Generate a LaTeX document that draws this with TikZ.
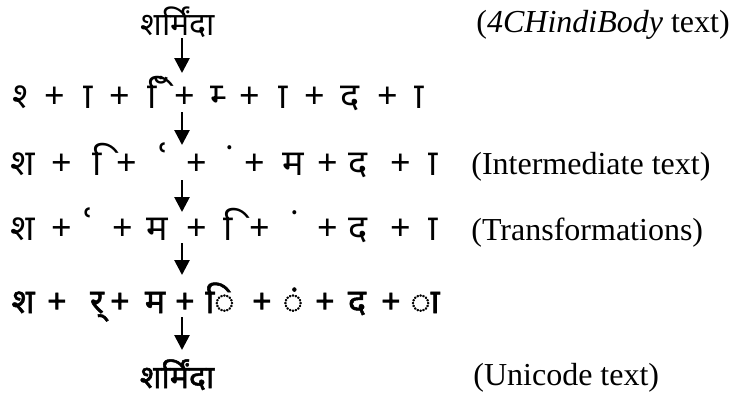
\documentclass[tikz,border=0pt]{standalone}
\usepackage{fontspec}
\setmainfont{Liberation Serif}
\newfontfamily\deva[Script=Devanagari]{Noto Sans}
\newfontfamily\devab[Script=Devanagari,FakeBold=1.6]{Noto Sans}
\usetikzlibrary{arrows.meta}
\newcommand\nb{^^^^00a0}
\newcommand\zwj{^^^^200d}
\newcommand\reph{\raisebox{-2.5pt}{\fontsize{24}{24}\selectfont ʿ}}

\begin{document}
\begin{tikzpicture}[x=0.5pt,y=-0.5pt,>={Triangle[length=7.5pt,width=7.5pt]},
  word/.style={font=\deva\fontsize{16}{18}\selectfont,inner sep=0pt,anchor=base},
  uword/.style={font=\devab\fontsize{16}{18}\selectfont,inner sep=0pt,anchor=base},
  lgc/.style={font=\deva\fontsize{18}{20}\selectfont,inner sep=0pt,anchor=base},
  uni/.style={font=\devab\fontsize{17}{20}\selectfont,inner sep=0pt,anchor=base},
  lbl/.style={font=\fontsize{16}{19}\selectfont,inner sep=0pt,anchor=base west},
  arr/.style={->,line width=1.35pt}]
  \useasboundingbox (0,0) rectangle (732,398);

  \node[word] (w0) at (178,35) {शर्मिंदा};
  \node[lbl] (l0) at (476,32) {(\textit{4CHindiBody} text)};

  \foreach \x/\g [count=\i] in {20/{श्\zwj},55/+,83/{\nb ा},120/+,157/{\nb िँ},185/+,
      217/{म्\zwj},250/+,278/{\nb ा},315/+,350/द,388/+,414/{\nb ा}}
    \node[lgc] (a\i) at (\x,108) {\g};

  \foreach \x/\g [count=\i] in {23/श,62/+,102/{\nb ि},127/+,163/\reph,197/+,
      230/{\nb ं},255/+,293/म,328/+,358/द,401/+,428/{\nb ा}}
    \node[lgc] (b\i) at (\x,175) {\g};
  \node[lbl] (l1) at (471,174) {(Intermediate text)};

  \foreach \x/\g [count=\i] in {23/श,62/+,88/\reph,123/+,157/म,197/+,
      233/{\nb ि},260/+,295/{\nb ं},328/+,358/द,401/+,428/{\nb ा}}
    \node[lgc] (c\i) at (\x,240) {\g};
  \node[lbl] (l2) at (471,240) {(Transformations)};

  \foreach \x/\g [count=\i] in {23/श,57/+,97/{र्},120/+,155/म,185/+,
      220/{ि},262/+,293/{ं},325/+,357/द,391/+,425/{ा}}
    \node[uni] (d\i) at (\x,313) {\g};

  \node[uword] (w1) at (177,388) {शर्मिंदा};
  \node[lbl] (l3) at (473,385) {(Unicode text)};

  \foreach \a/\b [count=\i] in {38/73,112/145,180/212,243/275,317/350}{
    \coordinate (s\i) at (182,\a);
    \coordinate (e\i) at (182,\b);
    \draw[arr] (s\i) -- (e\i);
  }
\end{tikzpicture}
\end{document}
